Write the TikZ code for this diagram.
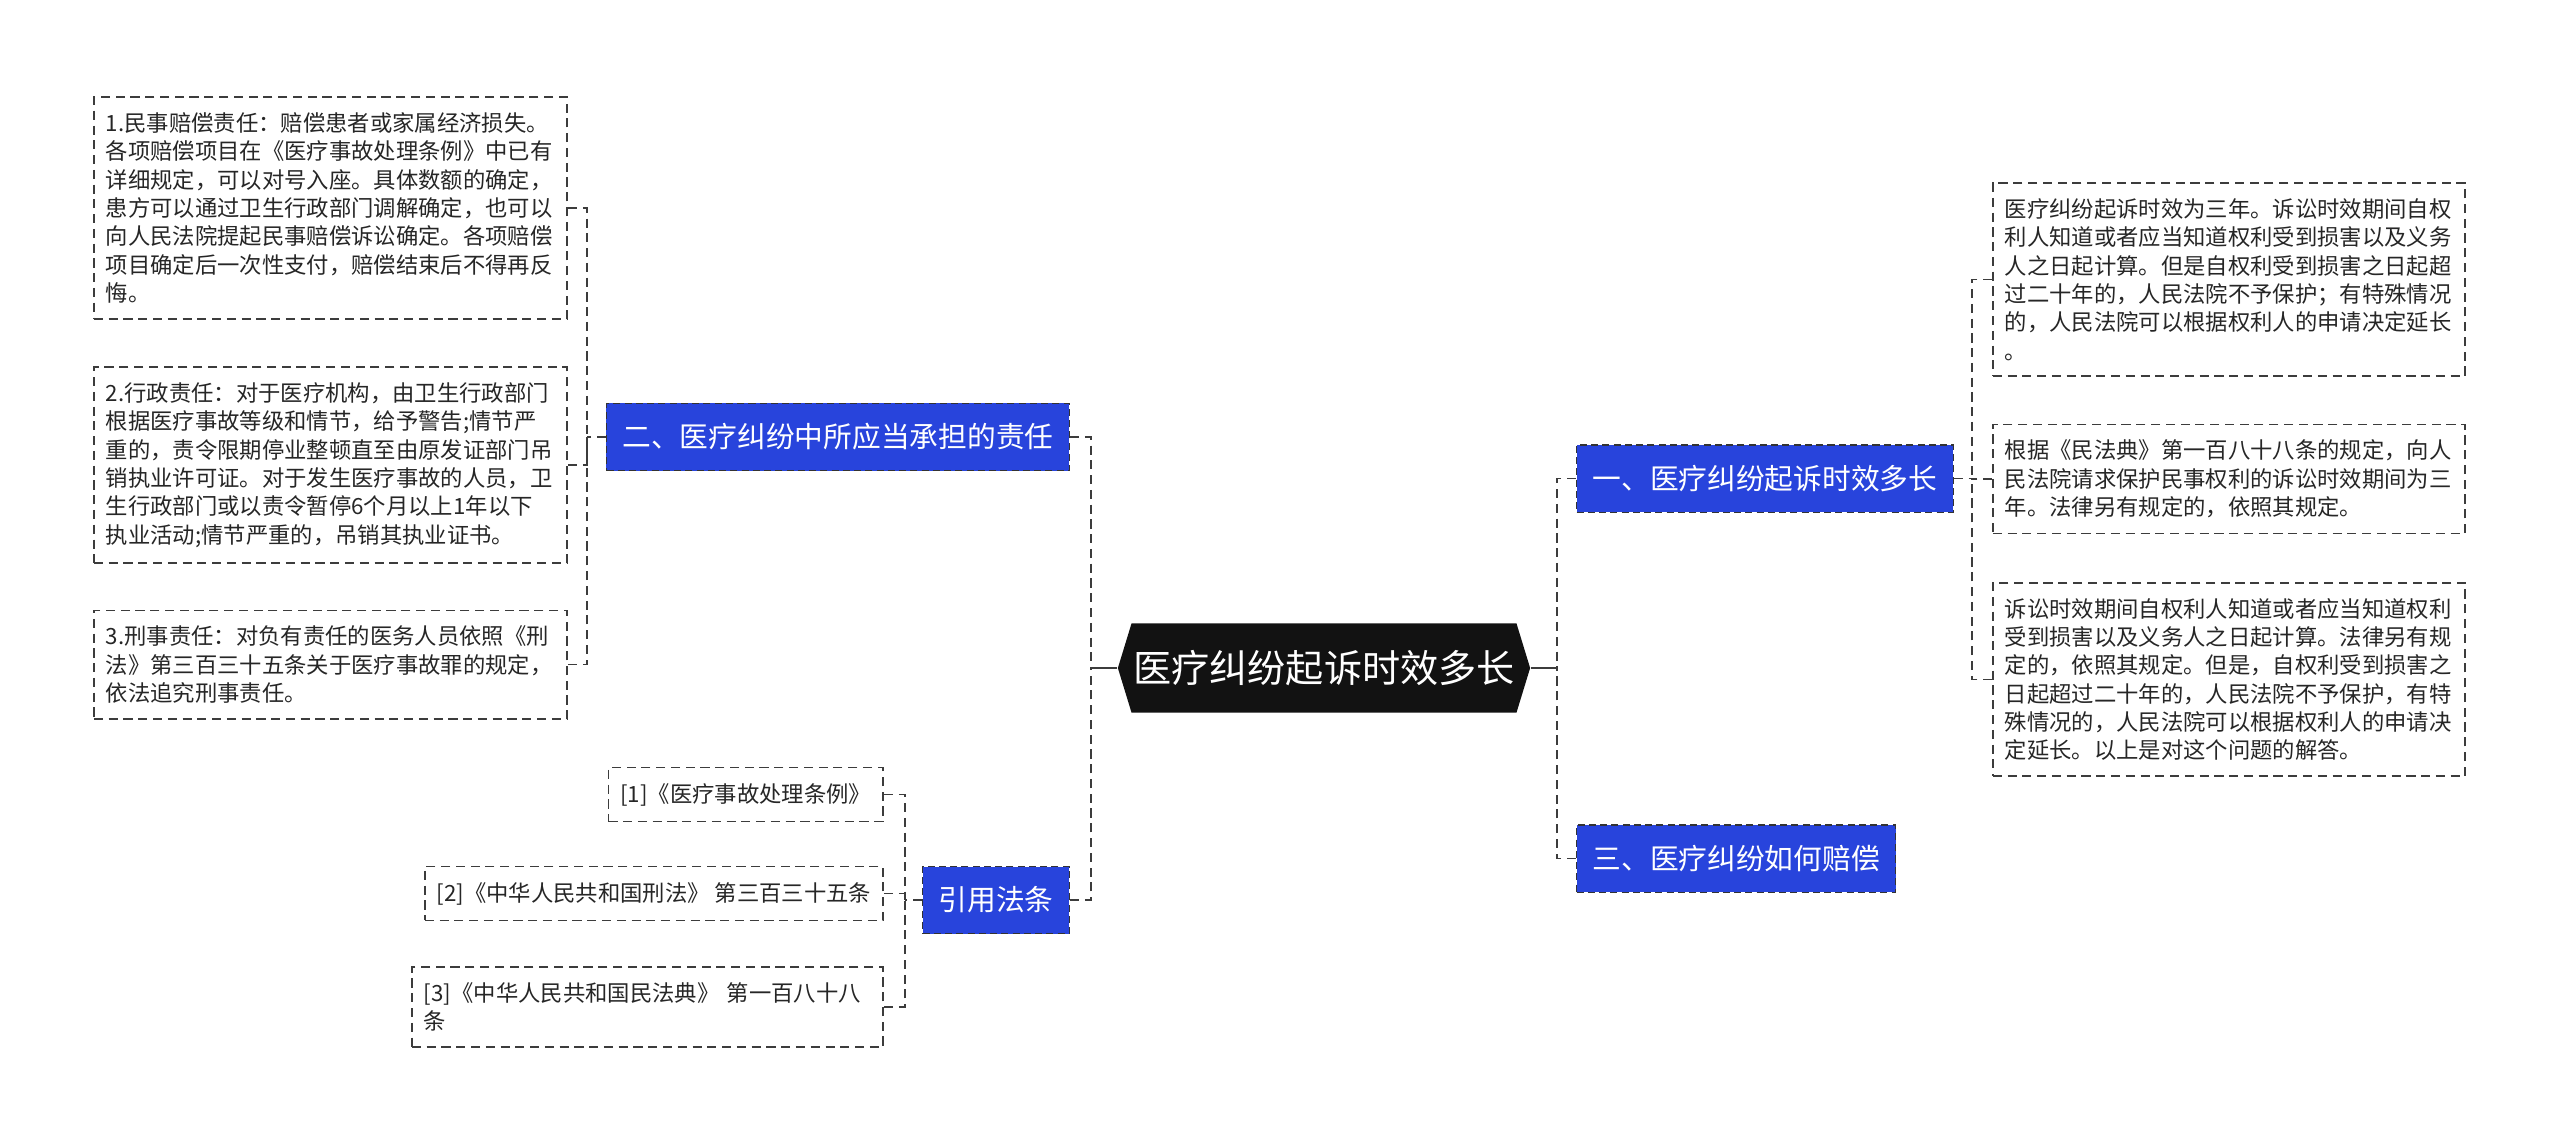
\documentclass[tikz,border=0pt]{standalone}
\usepackage{fontspec}
\setmainfont{Noto Sans CJK SC}
\usepackage{xcolor}
\usepackage{tikz}
\usetikzlibrary{shapes.symbols}
\definecolor{mapblue}{RGB}{40,68,220}
\definecolor{lineg}{RGB}{60,60,60}

\begin{document}
\begin{tikzpicture}[x=0.01cm, y=-0.01cm,
    rootnode/.style={signal, signal to=west and east, signal pointer angle=146, fill=black!93, text=white, font=\fontsize{10.85}{13}\selectfont, minimum width=4.12cm, minimum height=0.89cm, inner sep=0},
    topic/.style={draw=black!80, dash pattern=on 2pt off 1.2pt, line width=0.3pt, fill=mapblue, text=white, font=\fontsize{8.17}{10}\selectfont, minimum height=0.67cm, inner xsep=0.16cm},
    leaf/.style={draw=lineg, dash pattern=on 2.6pt off 1.6pt, line width=0.45pt, fill=white, text=black!85, align=left, font=\fontsize{6.35}{8.05}\selectfont, inner xsep=0.12cm, inner ysep=0.155cm},
    link/.style={draw=lineg, dash pattern=on 2.6pt off 1.6pt, line width=0.45pt},
    stem/.style={draw=lineg, line width=0.5pt}]
  \useasboundingbox (0,0) rectangle (2560,1144);

  \node[rootnode] (root) at (1324,668) {医疗纠纷起诉时效多长};

  \node[topic, anchor=east] (resp) at (1070,437) {二、医疗纠纷中所应当承担的责任};
  \node[topic, anchor=east] (cite) at (1070,900) {引用法条};
  \node[topic, anchor=west] (limit) at (1576,478.5) {一、医疗纠纷起诉时效多长};
  \node[topic, anchor=west] (comp) at (1576,858.5) {三、医疗纠纷如何赔偿};

  \node[leaf, anchor=east, text width=4.49cm] (civil) at (568,208) {1.民事赔偿责任：赔偿患者或家属经济损失。\\各项赔偿项目在《医疗事故处理条例》中已有\\详细规定，可以对号入座。具体数额的确定，\\患方可以通过卫生行政部门调解确定，也可以\\向人民法院提起民事赔偿诉讼确定。各项赔偿\\项目确定后一次性支付，赔偿结束后不得再反\\悔。};
  \node[leaf, anchor=east, text width=4.49cm] (admin) at (568,465) {2.行政责任：对于医疗机构，由卫生行政部门\\根据医疗事故等级和情节，给予警告;情节严\\重的，责令限期停业整顿直至由原发证部门吊\\销执业许可证。对于发生医疗事故的人员，卫\\生行政部门或以责令暂停6个月以上1年以下\\执业活动;情节严重的，吊销其执业证书。};
  \node[leaf, anchor=east, text width=4.49cm] (crim) at (568,664.5) {3.刑事责任：对负有责任的医务人员依照《刑\\法》第三百三十五条关于医疗事故罪的规定，\\依法追究刑事责任。};

  \node[leaf, anchor=west, text width=4.48cm] (term) at (1992,279.5) {医疗纠纷起诉时效为三年。诉讼时效期间自权\\利人知道或者应当知道权利受到损害以及义务\\人之日起计算。但是自权利受到损害之日起超\\过二十年的，人民法院不予保护；有特殊情况\\的，人民法院可以根据权利人的申请决定延长\\。};
  \node[leaf, anchor=west, text width=4.48cm] (code) at (1992,479) {根据《民法典》第一百八十八条的规定，向人\\民法院请求保护民事权利的诉讼时效期间为三\\年。法律另有规定的，依照其规定。};
  \node[leaf, anchor=west, text width=4.48cm] (start) at (1992,679.5) {诉讼时效期间自权利人知道或者应当知道权利\\受到损害以及义务人之日起计算。法律另有规\\定的，依照其规定。但是，自权利受到损害之\\日起超过二十年的，人民法院不予保护，有特\\殊情况的，人民法院可以根据权利人的申请决\\定延长。以上是对这个问题的解答。};

  \node[leaf, anchor=east] (ref1) at (884,794.5) {[1]《医疗事故处理条例》};
  \node[leaf, anchor=east] (ref2) at (884,893.5) {[2]《中华人民共和国刑法》 第三百三十五条};
  \node[leaf, anchor=east, text width=4.47cm] (ref3) at (884,1007) {[3]《中华人民共和国民法典》 第一百八十八\\条};

  \coordinate (ls) at (1091,668);
  \coordinate (rs) at (1557,668);
  \coordinate (rsp) at (587,437);
  \coordinate (lsp) at (1972,478.5);
  \coordinate (csp) at (905,900);

  \draw[stem] (root.west) -- (ls);
  \draw[stem] (root.east) -- (rs);
  \draw[link] (resp.east) -| (ls);
  \draw[link] (cite.east) -| (ls);
  \draw[link] (limit.west) -| (rs);
  \draw[link] (comp.west) -| (rs);

  \draw[link] (resp.west) -- (rsp);
  \draw[link] (civil.east) -| (rsp);
  \draw[link] (admin.east) -| (rsp);
  \draw[link] (crim.east) -| (rsp);

  \draw[link] (limit.east) -- (lsp);
  \draw[link] (term.west) -| (lsp);
  \draw[link] (code.west) -| (lsp);
  \draw[link] (start.west) -| (lsp);

  \draw[link] (cite.west) -- (csp);
  \draw[link] (ref1.east) -| (csp);
  \draw[link] (ref2.east) -| (csp);
  \draw[link] (ref3.east) -| (csp);
\end{tikzpicture}
\end{document}
